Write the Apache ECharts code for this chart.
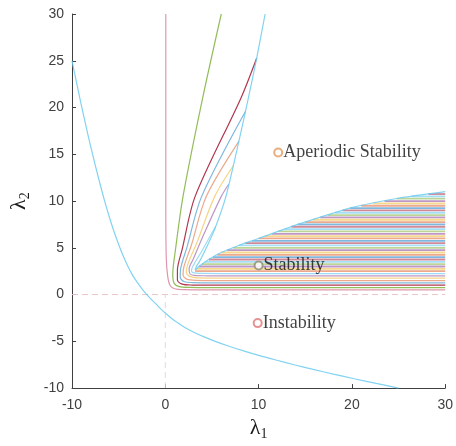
<!DOCTYPE html>
<html><head><meta charset="utf-8">
<script src="https://cdn.jsdelivr.net/npm/echarts@6/dist/echarts.min.js"></script>
<style>html,body{margin:0;padding:0;background:#fff}#c{width:456px;height:446px}</style>
</head><body><div id="c"></div>
<script>
// ---- data ----
const xTickValues = [-10, 0, 10, 20, 30];

// lower stability boundary (cyan)
const lowerBoundary = [[-10,25.0],[-9.5,22.6],[-9,20.25],[-8.5,18.0],[-8,15.85],[-7.5,13.8],[-7,11.85],[-6.5,10.0],[-6,8.3],[-5.5,6.75],[-5,5.35],[-4.5,4.1],[-4,3.0],[-3.5,2.05],[-3,1.3],[-2.5,0.62],[-2,0.02],[-1.5,-0.52],[-1,-1.0],[-0.52,-1.5],[0.02,-2.0],[0.62,-2.5],[1.3,-3.0],[2.05,-3.5],[3.0,-4.0],[4.1,-4.5],[5.35,-5.0],[6.75,-5.5],[8.3,-6.0],[10,-6.5],[11.85,-7.0],[13.8,-7.5],[15.85,-8.0],[18,-8.5],[20.25,-9.0],[22.6,-9.5],[25,-10]];
// upper boundary (cyan): steep branch down to the tip, then along the top of the stable band
const upperBoundary = [[10.7,30],[9.8,25.3],[8.9,21],[7.8,16],[6.5,10.5],[5.3,7],[4.4,5.0],[3.7,3.6],[3.3,2.95],[3.2,2.6],[3.6,3.0],[4.4,3.6],[6,4.5],[8,5.3],[10,6.0],[14.2,7.5],[20,9.3],[25,10.3],[30,11.0]];

// curves that wrap round the origin (fan lines + low horizontal levels)
const curve1 = [[0.05,30],[0.05,10],[0.1,4],[0.25,2],[0.5,1.0],[1.0,0.62],[2,0.52],[5,0.5],[30,0.5]];
const curve2 = [[6,30],[4,21],[1.9,10.5],[1.05,4.5],[0.8,2.2],[0.95,1.2],[1.5,0.85],[2.6,0.77],[5,0.75],[30,0.75]];
const curve3 = [[9.8,25.3],[8.1,21],[3.2,10.5],[1.8,4.8],[1.3,2.6],[1.3,1.55],[1.8,1.12],[2.9,1.02],[5,1.0],[30,1.0]];
const curve4 = [[8.6,19.6],[3.9,10.5],[2.3,5.0],[1.65,2.8],[1.6,1.85],[2.0,1.4],[3.1,1.27],[5,1.25],[30,1.25]];
const curve5 = [[7.9,16.4],[4.4,10.5],[2.8,5.3],[2.0,3.0],[1.9,2.1],[2.3,1.65],[3.4,1.52],[5,1.5],[30,1.5]];
const curve6 = [[7.3,13.8],[5.3,10.5],[3.4,5.6],[2.4,3.2],[2.25,2.4],[2.6,1.95],[3.6,1.78],[5.5,1.75],[30,1.75]];
const curve7 = [[6.8,11.8],[6.0,10.5],[4.2,6.6],[3.0,3.8],[2.55,2.75],[2.65,2.2],[3.1,2.05],[4.5,2.01],[6,2.0],[30,2.0]];
const curve8 = [[5.4,7.3],[4.0,4.8],[3.05,3.2],[2.8,2.6],[2.95,2.35],[4.0,2.26],[6,2.25],[30,2.25]];

// horizontal lines of the stable band: level and left start
const stripeLevels = [2.5,2.75,3.0,3.25,3.5,3.75,4.0,4.25,4.5,4.75,5.0,5.25,5.5,5.75,6.0,6.25,6.5,6.75,7.0,7.25,7.5,7.75,8.0,8.25,8.5,8.75,9.0,9.25,9.5,9.75,10.0,10.25,10.5,10.75];
const stripeStarts = [3.2,3.35,3.6,3.93,4.27,4.67,5.11,5.56,6.0,6.63,7.25,7.88,8.57,9.29,10.0,10.7,11.4,12.1,12.8,13.5,14.2,15.0,15.8,16.6,17.4,18.2,19.0,19.8,21.0,22.3,23.5,24.8,26.4,28.2];
const stripeEnd = 30;

// region labels
const labelNames = ['Aperiodic Stability', 'Stability', 'Instability'];
const labelPoints = [[12.1,15.2],[10,3.1],[9.9,-3.05]];
const labelColors = ['#E39A5E', '#8C8C70', '#E07878'];

// ---- styling ----
const palette = ['#0072BD','#D95319','#EDB120','#7E2F8E','#77AC30','#4DBEEE','#A2142F'];
const wrapColors = ['#C0305A','#77AC30','#A2142F','#0072BD','#D95319','#EDB120','#7E2F8E','#4DBEEE'];
const wrapOpacity = [0.5,0.8,0.85,0.5,0.5,0.55,0.5,0.55];
const cyan = '#6CCBEF';

const series = [];
series.push({type:'line', data:[[-10,0],[30,0]], symbol:'none', silent:true, z:1,
  lineStyle:{color:'#E8C4C8', width:1, type:[6,4]}});
series.push({type:'line', data:[[0,-10],[0,0]], symbol:'none', silent:true, z:1,
  lineStyle:{color:'#EAD6DE', width:1, type:[6,4]}});

stripeLevels.forEach((lv, i) => {
  series.push({type:'line', data:[[stripeStarts[i], lv],[stripeEnd, lv]], symbol:'none', silent:true, z:2,
    lineStyle:{color: palette[(i + 1) % palette.length], width:1.8, opacity:0.5}});
});

[curve1,curve2,curve3,curve4,curve5,curve6,curve7,curve8].forEach((c, i) => {
  series.push({type:'line', data:c, symbol:'none', silent:true, z:3, smooth:0.3,
    lineStyle:{color: wrapColors[i], width:1.2, opacity: wrapOpacity[i]}});
});

series.push({type:'line', data:lowerBoundary, symbol:'none', silent:true, z:4, smooth:0.3,
  lineStyle:{color:cyan, width:1.2, opacity:0.85}});
series.push({type:'line', data:upperBoundary, symbol:'none', silent:true, z:4, smooth:0.2,
  lineStyle:{color:cyan, width:1.2, opacity:0.85}});

labelNames.forEach((name, i) => {
  series.push({type:'scatter', data:[labelPoints[i]], symbol:'emptyCircle', symbolSize:8, z:6, silent:true,
    itemStyle:{color:labelColors[i], borderWidth:1},
    label:{show:true, position:'right', distance:0, formatter:name,
      fontFamily:'Liberation Serif', fontSize:18, color:'#111'}});
});

const axisText = {fontFamily:'Liberation Sans', fontSize:14, color:'#404040'};
const chart = echarts.init(document.getElementById('c'), null, {renderer:'canvas'});
chart.setOption({
  animation:false,
  backgroundColor:'#fff',
  grid:{left:70, right:6, top:14, bottom:52, containLabel:false},
  xAxis:{type:'value', min:-10, max:30, interval:10,
    axisLine:{show:true, onZero:false, lineStyle:{color:'#404040', width:1}},
    axisTick:{show:true, inside:true, length:4, lineStyle:{color:'#404040'}},
    axisLabel:Object.assign({margin:10, customValues: xTickValues}, axisText),
    splitLine:{show:false},
    name:'{a|λ}{b|1}', nameLocation:'middle', nameGap:26,
    nameTextStyle:{rich:{a:{fontFamily:'Liberation Serif', fontSize:22, color:'#1a1a1a'},
      b:{fontFamily:'Liberation Serif', fontSize:14, color:'#1a1a1a', padding:[12,0,0,0]}}}},
  yAxis:{type:'value', min:-10, max:30, interval:5,
    axisLine:{show:true, onZero:false, lineStyle:{color:'#404040', width:1}},
    axisTick:{show:true, inside:true, length:4, lineStyle:{color:'#404040'}},
    axisLabel:Object.assign({margin:8}, axisText),
    splitLine:{show:false},
    name:'{a|λ}{b|2}', nameLocation:'middle', nameGap:40, nameRotate:90,
    nameTextStyle:{rich:{a:{fontFamily:'Liberation Serif', fontSize:22, color:'#1a1a1a'},
      b:{fontFamily:'Liberation Serif', fontSize:14, color:'#1a1a1a', padding:[12,0,0,0]}}}},
  series: series
});
</script></body></html>
